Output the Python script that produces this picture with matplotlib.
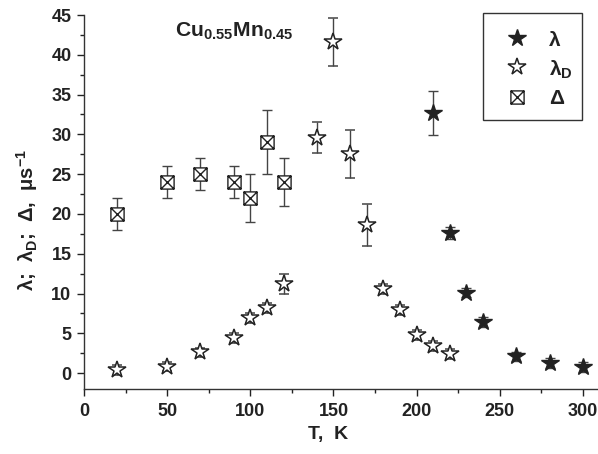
import matplotlib
matplotlib.use('Agg')
import matplotlib.pyplot as plt
from matplotlib.path import Path
from matplotlib.lines import Line2D
from matplotlib.patches import Rectangle
from matplotlib.ticker import MultipleLocator

plt.rcParams['font.family'] = ['Liberation Sans', 'DejaVu Sans']
plt.rcParams['font.weight'] = 'bold'
plt.rcParams['mathtext.fontset'] = 'custom'
plt.rcParams['mathtext.rm'] = 'Liberation Sans:bold'
plt.rcParams['mathtext.default'] = 'regular'

# Delta (static width)
T_delta = [20, 50, 70, 90, 100, 110, 120]
delta = [20.0, 24.0, 25.0, 24.0, 22.0, 29.0, 24.0]
delta_err = [2.0, 2.0, 2.0, 2.0, 3.0, 4.0, 3.0]

# lambda_D (dynamic relaxation rate)
T_lamD = [20, 50, 70, 90, 100, 110, 120, 140, 150, 160, 170, 180, 190, 200, 210, 220]
lamD = [0.4, 0.8, 2.6, 4.4, 6.9, 8.2, 11.2, 29.6, 41.6, 27.5, 18.6, 10.6, 7.9, 4.8, 3.4, 2.4]
lamD_err = [0.6, 0.6, 0.6, 0.6, 0.6, 0.6, 1.2, 2.0, 3.0, 3.0, 2.6, 0.6, 0.6, 0.6, 0.6, 0.6]

# lambda (relaxation rate, paramagnetic)
T_lam = [210, 220, 230, 240, 260, 280, 300]
lam = [32.7, 17.6, 10.1, 6.4, 2.1, 1.25, 0.75]
lam_err = [2.8, 0.8, 0.6, 0.6, 0.6, 0.6, 0.6]

xticks = [0, 50, 100, 150, 200, 250, 300]
yticks = [0, 5, 10, 15, 20, 25, 30, 35, 40, 45]
legend_labels = ['λ', 'λ$_D$', 'Δ']

# boxed-cross marker
box_x = Path([(-1, -1), (1, -1), (1, 1), (-1, 1), (-1, -1),
              (-1, -1), (1, 1), (-1, 1), (1, -1)],
             [Path.MOVETO, Path.LINETO, Path.LINETO, Path.LINETO, Path.CLOSEPOLY,
              Path.MOVETO, Path.LINETO, Path.MOVETO, Path.LINETO])

W, H = 598, 454
fig = plt.figure(figsize=(W / 100, H / 100), dpi=100)
ax = fig.add_axes([84 / W, 1 - 389 / H, (W - 84) / W, (389 - 15) / H])

ink = '#222222'
err_kw = dict(ecolor='#444444', elinewidth=1.0, capsize=3.5, capthick=1.0, linestyle='none')

styles = [
    dict(marker='*', ms=13, mfc=ink, mec=ink, mew=1.0),
    dict(marker='*', ms=13, mfc='white', mec=ink, mew=1.1),
    dict(marker=box_x, ms=9.5, mfc='white', mec=ink, mew=1.0),
]

ax.errorbar(T_lam, lam, yerr=lam_err, zorder=3, **styles[0], **err_kw)
ax.errorbar(T_lamD, lamD, yerr=lamD_err, zorder=3, **styles[1], **err_kw)
ax.errorbar(T_delta, delta, yerr=delta_err, zorder=3, **styles[2], **err_kw)

ax.set_xlim(0, (W - 84) / 1.663)
ax.set_ylim(-2, 45)
ax.set_xticks(xticks)
ax.set_yticks(yticks)
ax.xaxis.set_minor_locator(MultipleLocator(25))
ax.yaxis.set_minor_locator(MultipleLocator(2.5))
ax.tick_params(which='major', direction='out', length=5, width=1.0,
               labelsize=13, colors=ink)
ax.tick_params(which='minor', direction='out', length=3, width=1.0, colors=ink)
ax.tick_params(axis='x', pad=5)
ax.tick_params(axis='y', pad=4)
for side in ('top', 'right'):
    ax.spines[side].set_visible(False)
for side in ('left', 'bottom'):
    ax.spines[side].set_color('#333333')
    ax.spines[side].set_linewidth(1.0)

fig.text(175 / W, 1 - 37 / H, r'Cu$_{0.55}$Mn$_{0.45}$', fontsize=15.2,
         fontweight='bold', ha='left', va='baseline', color=ink)

fig.text(27 / W, 1 - 220 / H, r'λ;  λ$_D$;  Δ,  μs$^{-1}$', rotation=90,
         fontsize=14.5, fontweight='bold', ha='center', va='center', color=ink)
fig.text(328 / W, 1 - 435 / H, 'T,  K', fontsize=14, fontweight='bold',
         ha='center', va='center', color=ink)

# key box in the upper right corner
fig.add_artist(Rectangle((483 / W, 1 - 120 / H), 99 / W, 107 / H,
                         transform=fig.transFigure, facecolor='white',
                         edgecolor='#333333', linewidth=1.0, zorder=5))
row_y = [38, 67, 97]
for st, lab, ry in zip(styles, legend_labels, row_y):
    fig.add_artist(Line2D([517 / W], [1 - ry / H], ls='none',
                          transform=fig.transFigure, zorder=6, **st))
    fig.text(549 / W, 1 - ry / H, lab, fontsize=15, fontweight='bold',
             ha='left', va='center_baseline', color=ink, zorder=6)

fig.savefig('out.png', dpi=100)
